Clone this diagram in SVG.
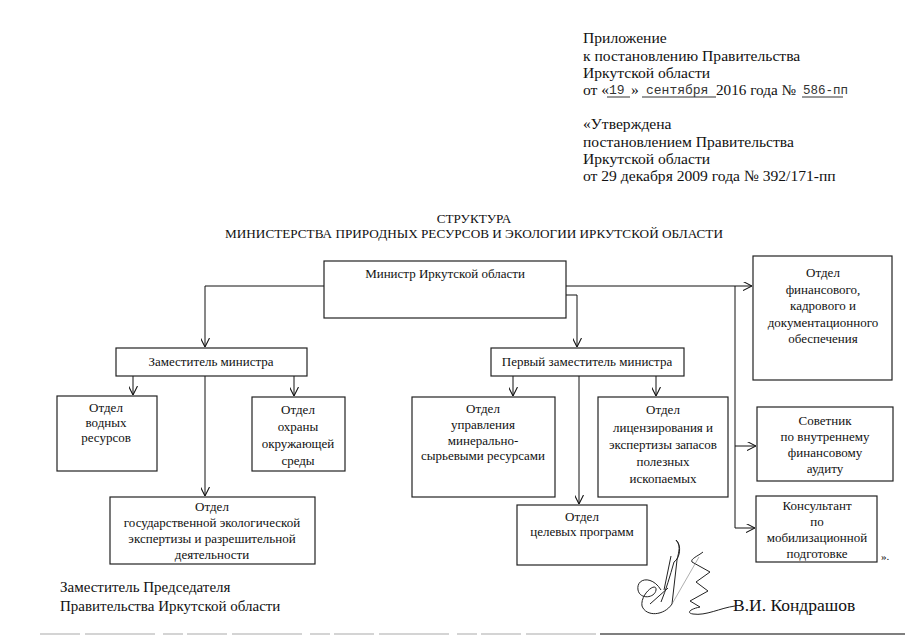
<svg xmlns="http://www.w3.org/2000/svg" width="905" height="640" viewBox="0 0 905 640">
<style>
text{font-family:"Liberation Serif","Times New Roman",serif;fill:#111}
.hd{font-size:15.6px}
.ft{font-size:15px}
.tt{font-size:13.2px;text-anchor:middle}
.nb{font-size:13px;text-anchor:middle}
.mono{font-family:"Liberation Mono","Courier New",monospace;font-size:13px;fill:#333}
.box{fill:#fff;stroke:#222;stroke-width:1.2}
.ln{fill:none;stroke:#111;stroke-width:1}
.ul{stroke:#333;stroke-width:1}
.sig{fill:none;stroke:#222;stroke-width:1}
</style>
<defs>
<marker id="arr" viewBox="0 0 10 10" refX="10" refY="5" markerWidth="9" markerHeight="9" markerUnits="userSpaceOnUse" orient="auto">
<path d="M0,0 L10,5 L0,10" fill="none" stroke="#111" stroke-width="1.2"/>
</marker>
</defs>
<rect width="905" height="640" fill="#fff"/>

<g id="header">
<text class="hd" x="583" y="43">Приложение</text>
<text class="hd" x="583" y="61">к постановлению Правительства</text>
<text class="hd" x="583" y="78">Иркутской области</text>
<text class="hd" x="583" y="95">от «</text>
<text class="mono" x="609" y="94">19</text>
<line class="ul" x1="607" y1="97" x2="630" y2="97"/>
<text class="hd" x="631" y="95">»</text>
<line class="ul" x1="642" y1="97" x2="716" y2="97"/>
<text class="mono" x="646" y="94">сентября</text>
<text class="hd" x="716" y="95" style="font-size:15.2px">2016 года №</text>
<text class="mono" x="803" y="94" style="font-size:12.5px">586-пп</text>
<line class="ul" x1="802" y1="97" x2="843" y2="97" stroke="#999"/>
<text class="hd" x="583" y="129">«Утверждена</text>
<text class="hd" x="583" y="147">постановлением Правительства</text>
<text class="hd" x="583" y="164">Иркутской области</text>
<text class="hd" x="583" y="181">от 29 декабря 2009 года № 392/171-пп</text>
</g>

<g id="title">
<text class="tt" x="474" y="223">СТРУКТУРА</text>
<text class="tt" x="474" y="238">МИНИСТЕРСТВА ПРИРОДНЫХ РЕСУРСОВ И ЭКОЛОГИИ ИРКУТСКОЙ ОБЛАСТИ</text>
</g>

<g id="connectors">
<path class="ln" d="M324,286 H205 V347" marker-end="url(#arr)"/>
<path class="ln" d="M566,286 H752" marker-end="url(#arr)"/>
<path class="ln" d="M566,295 H577 V347" marker-end="url(#arr)"/>
<path class="ln" d="M735,286 V528 H755" marker-end="url(#arr)"/>
<path class="ln" d="M735,446 H756" marker-end="url(#arr)"/>
<path class="ln" d="M133,376 V395" marker-end="url(#arr)"/>
<path class="ln" d="M205,376 V496" marker-end="url(#arr)"/>
<path class="ln" d="M294,376 V396" marker-end="url(#arr)"/>
<path class="ln" d="M513,376 V396" marker-end="url(#arr)"/>
<path class="ln" d="M579,376 V504" marker-end="url(#arr)"/>
<path class="ln" d="M656,376 V396" marker-end="url(#arr)"/>
</g>

<g id="minister">
<rect class="box" x="324" y="261" width="242" height="57"/>
<text class="nb" x="445" y="278">Министр Иркутской области</text>
</g>

<g id="finance">
<rect class="box" x="753" y="256" width="139" height="124"/>
<text class="nb" x="823" y="277">Отдел</text>
<text class="nb" x="823" y="294">финансового,</text>
<text class="nb" x="823" y="310">кадрового и</text>
<text class="nb" x="823" y="327">документационного</text>
<text class="nb" x="823" y="343">обеспечения</text>
</g>

<g id="deputy">
<rect class="box" x="116" y="348" width="191" height="28"/>
<text class="nb" x="211" y="366">Заместитель министра</text>
</g>

<g id="first-deputy">
<rect class="box" x="491" y="348" width="193" height="28"/>
<text class="nb" x="587" y="366">Первый заместитель министра</text>
</g>

<g id="water">
<rect class="box" x="57" y="396" width="100" height="75"/>
<text class="nb" x="106" y="412">Отдел</text>
<text class="nb" x="106" y="427">водных</text>
<text class="nb" x="106" y="442">ресурсов</text>
</g>

<g id="environment">
<rect class="box" x="252" y="397" width="93" height="74"/>
<text class="nb" x="298" y="414">Отдел</text>
<text class="nb" x="298" y="431">охраны</text>
<text class="nb" x="298" y="448">окружающей</text>
<text class="nb" x="298" y="465">среды</text>
</g>

<g id="expertise">
<rect class="box" x="110" y="497" width="205" height="67"/>
<text class="nb" x="212" y="511">Отдел</text>
<text class="nb" x="212" y="527">государственной экологической</text>
<text class="nb" x="212" y="543">экспертизы и разрешительной</text>
<text class="nb" x="212" y="559">деятельности</text>
</g>

<g id="mineral">
<rect class="box" x="412" y="397" width="143" height="100"/>
<text class="nb" x="483" y="413">Отдел</text>
<text class="nb" x="483" y="429">управления</text>
<text class="nb" x="483" y="445">минерально-</text>
<text class="nb" x="483" y="460">сырьевыми ресурсами</text>
</g>

<g id="licensing">
<rect class="box" x="598" y="397" width="130" height="100"/>
<text class="nb" x="663" y="414">Отдел</text>
<text class="nb" x="663" y="432">лицензирования и</text>
<text class="nb" x="663" y="449">экспертизы запасов</text>
<text class="nb" x="663" y="466">полезных</text>
<text class="nb" x="663" y="483">ископаемых</text>
</g>

<g id="programs">
<rect class="box" x="517" y="505" width="130" height="60"/>
<text class="nb" x="582" y="521">Отдел</text>
<text class="nb" x="582" y="536">целевых программ</text>
</g>

<g id="advisor">
<rect class="box" x="757" y="407" width="136" height="74"/>
<text class="nb" x="825" y="425">Советник</text>
<text class="nb" x="825" y="441">по внутреннему</text>
<text class="nb" x="825" y="457">финансовому</text>
<text class="nb" x="825" y="473">аудиту</text>
</g>

<g id="consultant">
<rect class="box" x="756" y="496" width="121" height="66"/>
<text class="nb" x="817" y="510">Консультант</text>
<text class="nb" x="817" y="526">по</text>
<text class="nb" x="817" y="542">мобилизационной</text>
<text class="nb" x="817" y="558">подготовке</text>
<text x="881" y="560" style="font-size:11px">».</text>
</g>

<g id="footer">
<text class="ft" x="60" y="592">Заместитель Председателя</text>
<text class="ft" x="60" y="611">Правительства Иркутской области</text>
<text x="733" y="611" style="font-size:17.5px">В.И. Кондрашов</text>
<path class="sig" d="M676,540 C682,546 680,558 674,562 C670,576 666,590 661,602"/>
<path class="sig" d="M661,590 C652,575 636,578 638,590 C640,600 655,598 656,590 C657,581 640,594 642,606 C646,617 664,616 672,604 L677,560 C679,551 681,545 676,540"/>
<path class="sig" d="M664,590 L671,556 M650,604 L668,588"/>
<path class="sig" d="M703,552 C698,556 690,559 692,562 L710,572 L696,582 L708,591 L690,601 L700,607 C690,609 686,613 693,614 C706,616 720,608 735,606"/>
<path fill="none" stroke="#777" stroke-width="0.6" d="M672,604 L699,557"/>
<path fill="none" stroke="#aaa" stroke-width="1.2" stroke-dasharray="40,5,70,8,20,4" d="M40,634 H600"/>
<path fill="none" stroke="#555" stroke-width="1.5" d="M600,634 H905"/>
</g>
</svg>
